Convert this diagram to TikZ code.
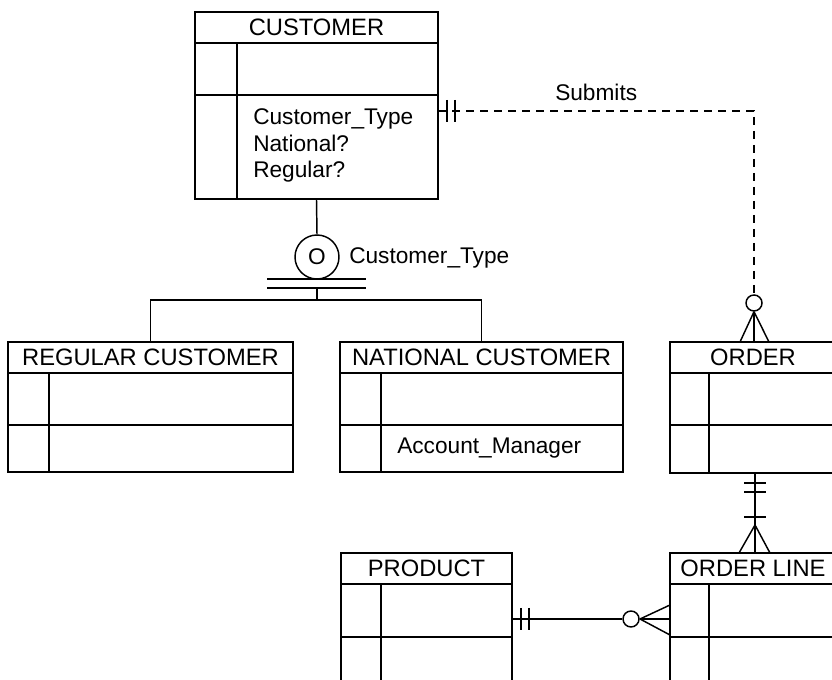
\documentclass[tikz,border=0pt]{standalone}
\usepackage{fontspec}
\setmainfont{Liberation Sans}
\usetikzlibrary{fit}
\tikzset{
  ent/.style={draw, line width=1.3pt, inner sep=0pt},
  ttl/.style={inner sep=0pt, font=\fontsize{17.8}{21}\selectfont},
  attr/.style={inner sep=0pt, anchor=base west, font=\fontsize{17}{20}\selectfont},
  ln/.style={line width=1.1pt},
  rel/.style={line width=1.1pt, dash pattern=on 6pt off 4.5pt},
  ring/.style={circle, draw, line width=1.1pt, minimum size=12pt, inner sep=0pt, fill=white},
}
\newcommand\erent[9]{%
  \node[ent, fit={(#2,#3) (#4,#5)}] (#1) {};
  \draw[ln] (#2,#6) -- (#4,#6);
  \draw[ln] (#2,#7) -- (#4,#7);
  \draw[ln] (#8,#6) -- (#8,#5);
  \node[ttl] (#1-t) at ({(#2+#4)/2},{(#3+#6)/2}) {#9};
}
\begin{document}
\begin{tikzpicture}[x=0.75pt,y=-0.75pt]
\useasboundingbox (0,0) rectangle (832,680);
\clip (0,0) rectangle (832,680);
\fill[white] (0,0) rectangle (832,680);

% entities
\erent{cust}{195}{12}{438}{199}{43}{95}{237}{CUSTOMER}
\erent{reg}{8}{342}{293}{472}{373}{425}{49}{REGULAR CUSTOMER}
\erent{nat}{340}{342}{623}{472}{373}{425}{381}{NATIONAL CUSTOMER}
\erent{ord}{670}{342}{836}{473}{373}{425}{709}{ORDER}
\erent{prod}{341}{553}{512}{710}{584}{637}{381}{PRODUCT}
\erent{ol}{670}{553}{836}{710}{584}{637}{709}{ORDER LINE}

% attributes
\node[attr] (a1) at (253,125) {Customer\_Type};
\node[attr] (a2) at (253,152) {National?};
\node[attr] (a3) at (253,178) {Regular?};
\node[attr] (a4) at (397,454) {Account\_Manager};

% subtype / disjoint circle
\node[circle, draw, line width=1.1pt, minimum size=33pt, inner sep=0pt,
      font=\fontsize{17}{20}\selectfont] (d) at (317,257) {O};
\node[attr] (dl) at (349,264) {Customer\_Type};
\draw[ln] (cust.south) -- (d.north);
\draw[ln] (267,279) -- (366,279);
\draw[ln] (267,288) -- (366,288);
\coordinate (j0) at (317,288);
\coordinate (j) at (317,300);
\draw[ln] (j0) -- (j);
\draw[ln] (reg.north) |- (j) -| (nat.north);

% Submits: CUSTOMER -- ORDER
\coordinate (s0) at (438,111);
\node[ring] (oc) at (754,303) {};
\draw[rel] (s0) -| (oc.north);
\draw[ln] (447,100) -- (447,122);
\draw[ln] (455,100) -- (455,122);
\draw[ln] (oc.south) -- (ord.north -| oc);
\draw[ln] (oc.south) -- (740,342);
\draw[ln] (oc.south) -- (769,342);
\node[attr] (sub) at (555,101) {Submits};

% ORDER -- ORDER LINE
\coordinate (o1) at (755,525);
\draw[ln] (ord.south -| o1) -- (ol.north -| o1);
\draw[ln] (744,483) -- (766,483);
\draw[ln] (744,492) -- (766,492);
\draw[ln] (744,517) -- (766,517);
\draw[ln] (o1) -- (739,553);
\draw[ln] (o1) -- (770,553);

% PRODUCT -- ORDER LINE
\node[ring] (pc) at (631,619) {};
\coordinate (p1) at (640,619);
\draw[ln] (prod.east |- pc) -- (pc.west);
\draw[ln] (pc.east) -- (ol.west |- pc);
\draw[ln] (521,608) -- (521,630);
\draw[ln] (529,608) -- (529,630);
\draw[ln] (p1) -- (670,605);
\draw[ln] (p1) -- (670,635);
\end{tikzpicture}
\end{document}
